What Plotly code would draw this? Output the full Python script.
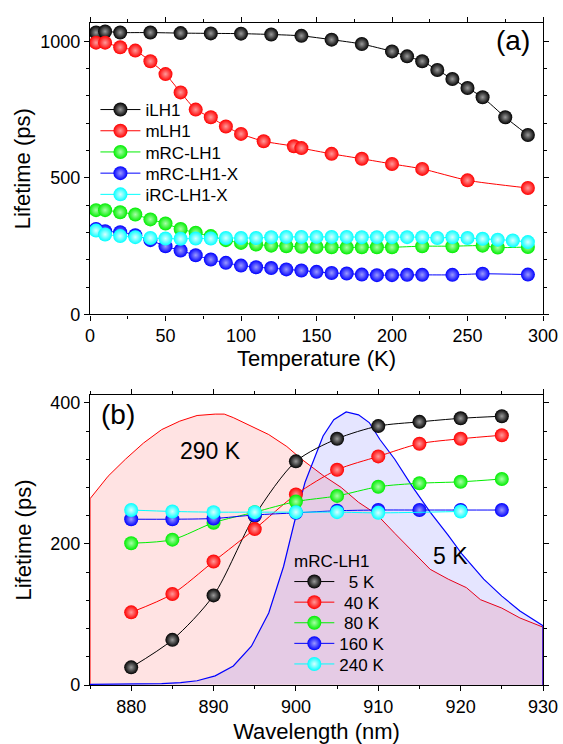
import plotly.graph_objects as go

FONT = "Arial, Liberation Sans, Helvetica, sans-serif"

# ---------------- Panel (a): lifetime vs temperature ----------------
t_ilh1 = [4, 10, 20, 40, 60, 80, 100, 120, 140, 160, 180, 200, 210, 220, 230, 240, 250, 260, 275, 290]
v_ilh1 = [1032, 1036, 1032, 1032, 1030, 1029, 1028, 1025, 1020, 1006, 990, 963, 945, 927, 895, 862, 829, 795, 722, 657]

t_mlh1 = [4, 10, 20, 30, 40, 50, 60, 70, 80, 90, 100, 115, 135, 140, 160, 180, 200, 220, 250, 290]
v_mlh1 = [995, 995, 978, 966, 927, 880, 813, 750, 722, 688, 661, 634, 616, 609, 588, 570, 551, 533, 491, 463]

t_mrc = [4, 10, 20, 30, 40, 50, 60, 70, 80, 90, 100, 110, 120, 130, 140, 150, 160, 170, 180, 190, 200, 220, 240, 260, 270, 290]
v_mrc = [382, 382, 374, 366, 348, 333, 313, 299, 287, 272, 262, 256, 252, 250, 248, 247, 246, 245, 246, 246, 246, 250, 250, 252, 245, 247]

t_mrcx = [4, 10, 20, 30, 40, 50, 60, 70, 80, 90, 100, 110, 120, 130, 140, 150, 160, 170, 180, 190, 200, 210, 220, 240, 260, 290]
v_mrcx = [313, 305, 301, 290, 272, 250, 234, 217, 201, 189, 179, 173, 170, 165, 161, 156, 152, 150, 146, 144, 144, 145, 145, 145, 149, 146]

t_irc = [4, 10, 20, 30, 40, 50, 60, 70, 80, 90, 100, 110, 120, 130, 140, 150, 160, 170, 180, 190, 200, 210, 220, 230, 240, 250, 260, 270, 280, 290]
v_irc = [307, 293, 287, 283, 280, 278, 277, 278, 278, 280, 280, 280, 283, 284, 284, 284, 284, 284, 283, 283, 283, 283, 283, 280, 283, 280, 277, 274, 271, 265]

# ---------------- Panel (b): lifetime vs wavelength ----------------
wl_5k = [880, 885, 890, 895, 900, 905, 910, 915, 920, 925]
v_5k = [25, 64, 127, 240, 317, 349, 367, 373, 378, 381]

wl_40k = [880, 885, 890, 895, 900, 905, 910, 915, 920, 925]
v_40k = [103, 129, 175, 221, 270, 305, 324, 342, 349, 354]

wl_80k = [880, 885, 890, 895, 900, 905, 910, 915, 920, 925]
v_80k = [201, 206, 230, 245, 260, 268, 281, 286, 288, 292]

wl_160k = [880, 885, 890, 895, 900, 905, 910, 915, 920, 925]
v_160k = [235, 235, 236, 241, 244, 247, 248, 248, 248, 248]

wl_240k = [880, 885, 890, 895, 900, 905, 910, 920]
v_240k = [248, 246, 245, 245, 245, 245, 244, 246]

# emission spectra (scaled to lifetime axis)
spec290_wl = [875.0, 875.0, 877.2, 879.3, 881.5, 883.7, 885.9, 888.0, 890.2, 891.3, 892.4, 894.6, 896.7,
              898.9, 900.7, 903.3, 905.5, 907.6, 909.8, 912.0, 914.1, 916.3, 918.5, 920.7, 922.4, 925.0,
              927.2, 930.0, 930.0]
spec290_v = [0, 264, 296, 320, 343, 362, 374, 382, 384, 384, 379, 367, 355,
             338, 320, 297, 280, 259, 242, 215, 190, 164, 150, 138, 121, 109,
             95, 82, 0]

spec5_wl = [875.0, 880.0, 883.7, 886.0, 888.0, 890.2, 892.4, 894.6, 896.7, 898.5, 899.8, 901.1, 902.5,
            903.3, 904.6, 906.1, 907.6, 908.9, 910.2, 912.0, 914.1, 916.3, 918.5, 920.2, 922.8, 925.0,
            927.2, 930.0, 930.0]
spec5_v = [1, 1.5, 2, 3.5, 6, 13, 27, 55, 102, 168, 230, 287, 329,
           353, 376, 387, 383, 372, 348, 320, 282, 245, 212, 185, 150, 126,
           105, 84, 0]

names_a = ["iLH1", "mLH1", "mRC-LH1", "mRC-LH1-X", "iRC-LH1-X"]
names_b = ["\u00a0\u00a05 K", "\u00a040 K", "\u00a080 K", "160 K", "240 K"]
colors = ["#000000", "#ff0000", "#00ee00", "#0000ff", "#00ffff"]
centers = ["#9a9a9a", "#ff9a9a", "#a8ffa8", "#9a9aff", "#d8ffff"]

# legend entry centres (pixels from top of the 744 px figure)
PLOT_TOP, PLOT_BOTTOM = 23, 685
legend_a_px = [110, 131.2, 152.4, 173.6, 194.8]
legend_b_px = [582, 602.6, 623.2, 643.8, 664.4]


def paper_y(py):
    return (PLOT_BOTTOM - py) / (PLOT_BOTTOM - PLOT_TOP)


fig = go.Figure()

# spectra first (background)
fig.add_trace(go.Scatter(x=spec290_wl, y=spec290_v, xaxis="x2", yaxis="y2", mode="lines",
                         fill="toself", fillcolor="rgba(255,0,0,0.11)",
                         line=dict(color="#ff0000", width=1), showlegend=False, hoverinfo="skip"))
fig.add_trace(go.Scatter(x=spec5_wl, y=spec5_v, xaxis="x2", yaxis="y2", mode="lines",
                         fill="toself", fillcolor="rgba(0,0,255,0.10)",
                         line=dict(color="#0000ff", width=1.2), showlegend=False, hoverinfo="skip"))

legend_layouts = {}
idx = 1

data_a = [(t_ilh1, v_ilh1), (t_mlh1, v_mlh1), (t_mrc, v_mrc), (t_mrcx, v_mrcx), (t_irc, v_irc)]
for i, ((xs, ys), nm, c, cc) in enumerate(zip(data_a, names_a, colors, centers)):
    lname = "legend" if idx == 1 else f"legend{idx}"
    fig.add_trace(go.Scatter(x=xs, y=ys, name=nm, mode="lines+markers", xaxis="x", yaxis="y",
                             line=dict(color=c, width=1, shape="spline", smoothing=0.6),
                             marker=dict(size=14, color=c, line=dict(width=0),
                                         gradient=dict(type="radial", color=cc)),
                             legend=lname))
    legend_layouts[lname] = dict(x=0.012, y=paper_y(legend_a_px[i]), xanchor="left", yanchor="middle",
                                 bgcolor="rgba(0,0,0,0)", font=dict(family=FONT, size=17),
                                 itemwidth=40, tracegroupgap=0)
    idx += 1

data_b = [(wl_5k, v_5k), (wl_40k, v_40k), (wl_80k, v_80k), (wl_160k, v_160k), (wl_240k, v_240k)]
for i, ((xs, ys), nm, c, cc) in enumerate(zip(data_b, names_b, colors, centers)):
    lname = f"legend{idx}"
    fig.add_trace(go.Scatter(x=xs, y=ys, name=nm, mode="lines+markers", xaxis="x2", yaxis="y2",
                             line=dict(color=c, width=1, shape="spline", smoothing=0.8),
                             marker=dict(size=14, color=c, line=dict(width=0),
                                         gradient=dict(type="radial", color=cc)),
                             legend=lname))
    legend_layouts[lname] = dict(x=0.44, y=paper_y(legend_b_px[i]), xanchor="left", yanchor="middle",
                                 bgcolor="rgba(0,0,0,0)", font=dict(family=FONT, size=17),
                                 itemwidth=40, tracegroupgap=0)
    idx += 1

axis_common = dict(showline=True, linecolor="black", linewidth=1.3, mirror="ticks",
                   ticks="outside", ticklen=5, tickwidth=1.2, tickcolor="black",
                   showgrid=False, zeroline=False, automargin=False,
                   tickfont=dict(family=FONT, size=18, color="black"))

fig.update_layout(
    width=563, height=744,
    margin=dict(l=90, r=20, t=PLOT_TOP, b=744 - PLOT_BOTTOM, autoexpand=False),
    paper_bgcolor="white", plot_bgcolor="white",
    font=dict(family=FONT, color="black"),
    xaxis=dict(domain=[0, 1], anchor="y", range=[0, 300], tick0=0, dtick=50,
               minor=dict(dtick=25, ticks="outside", ticklen=3, tickcolor="black"),
               title=dict(text="Temperature (K)", font=dict(size=22, family=FONT), standoff=5),
               **axis_common),
    yaxis=dict(domain=[0.5597, 1], anchor="x", range=[0, 1067], tick0=0, dtick=500,
               minor=dict(dtick=100, ticks="outside", ticklen=3, tickcolor="black"),
               title=dict(text="Lifetime (ps)", font=dict(size=22, family=FONT), standoff=3),
               **axis_common),
    xaxis2=dict(domain=[0, 1], anchor="y2", range=[875, 930], tick0=880, dtick=10,
                minor=dict(dtick=5, ticks="outside", ticklen=3, tickcolor="black"),
                title=dict(text="Wavelength (nm)", font=dict(size=22, family=FONT), standoff=15),
                **axis_common),
    yaxis2=dict(domain=[0, 0.438], anchor="x2", range=[0, 411], tick0=0, dtick=200,
                minor=dict(dtick=40, ticks="outside", ticklen=3, tickcolor="black"),
                title=dict(text="Lifetime (ps)", font=dict(size=22, family=FONT), standoff=12),
                **axis_common),
    annotations=[
        dict(text="(a)", xref="paper", yref="paper", x=0.934, y=0.973, showarrow=False,
             font=dict(family=FONT, size=28), xanchor="center", yanchor="middle"),
        dict(text="(b)", xref="paper", yref="paper", x=0.0627, y=0.408, showarrow=False,
             font=dict(family=FONT, size=28), xanchor="center", yanchor="middle"),
        dict(text="290 K", xref="paper", yref="paper", x=0.266, y=0.3535, showarrow=False,
             font=dict(family=FONT, size=23), xanchor="center", yanchor="middle"),
        dict(text="5 K", xref="paper", yref="paper", x=0.795, y=0.1945, showarrow=False,
             font=dict(family=FONT, size=23), xanchor="center", yanchor="middle"),
        dict(text="mRC-LH1", xref="paper", yref="paper", x=(292 - 90) / 453.3, y=paper_y(561.5),
             showarrow=False, font=dict(family=FONT, size=17), xanchor="left", yanchor="middle"),
    ],
)
fig.update_layout(**legend_layouts)

fig.write_html("out.html")
